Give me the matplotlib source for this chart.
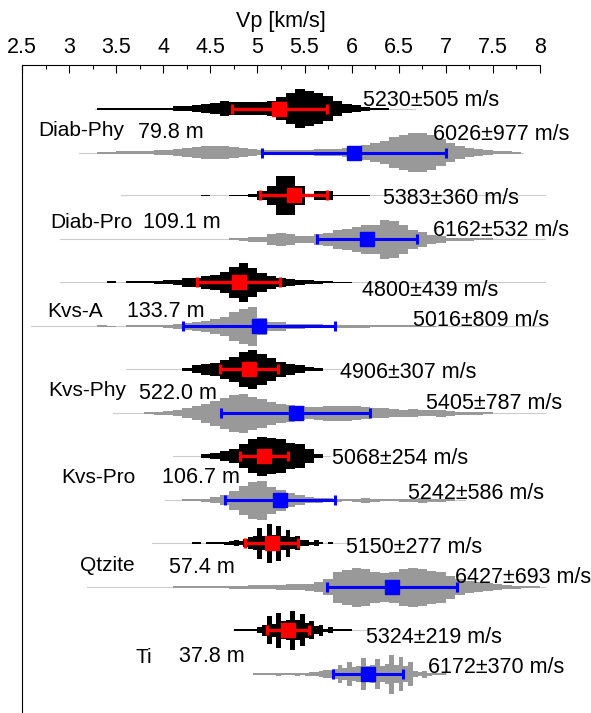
import numpy as np
import matplotlib.pyplot as plt

plt.rcParams['font.family'] = ['Liberation Sans', 'DejaVu Sans']

units = ['Diab-Phy', 'Diab-Pro', 'Kvs-A', 'Kvs-Phy', 'Kvs-Pro', 'Qtzite', 'Ti']
lengths = [79.8, 109.1, 133.7, 522.0, 106.7, 57.4, 37.8]

# mean / std in m/s, first set (black) and second set (gray)
mean_1 = [5230, 5383, 4800, 4906, 5068, 5150, 5324]
std_1 = [505, 360, 439, 307, 254, 277, 219]
mean_2 = [6026, 6162, 5016, 5405, 5242, 6427, 6172]
std_2 = [977, 532, 809, 787, 586, 693, 370]

# histogram counts, first bin edge and bin width in km/s
counts_1 = [
    [1, 1, 1, 1, 1, 1, 1, 1, 2.5, 3, 3.5, 4.5, 6, 7.5, 7, 6.5, 6.5, 7, 8, 12,
     16, 20, 18, 16, 13, 8, 5, 3.5, 2, 1, 1],
    [1, 0, 0, 0.8, 1, 1.5, 4.5, 10, 20, 20, 10, 1.5, 5, 5, 1, 1, 1, 1],
    [1, 0, 1, 1, 1, 1.5, 2, 2.5, 4, 4.5, 6, 7, 10, 15, 19, 14, 9, 6, 4, 3.5,
     2.5, 2, 1.5, 1, 0.7, 0.7],
    [1.5, 4, 5, 6.5, 9, 12, 17, 19, 15, 11, 7, 5, 4, 2, 1.5],
    [2, 3, 5, 7, 12, 17, 19.5, 18, 17, 13, 12, 7, 2],
    [1, 1, 0, 1, 1, 1, 1, 1.5, 2, 3, 2, 4, 6, 7, 15, 7, 19, 8, 17, 7, 13, 6, 7,
     3, 3, 1.5, 3, 1, 0, 1],
    [1, 1, 1, 1, 1, 3, 5, 13, 6, 16, 8, 9, 18, 9, 15, 7, 8.3, 4, 5, 1.5, 2.5,
     1, 1, 1, 1],
]
start_1 = [3.3, 4.4, 3.4, 4.2, 4.4, 4.3, 4.75]
width_1 = [0.1, 0.1, 0.1, 0.1, 0.1, 0.05, 0.05]
range_1 = [(3.27, 6.67), (3.55, 8.05), (2.9, 8.05), (3.6, 5.95),
           (4.1, 5.77), (3.88, 5.95), (4.74, 6.2)]

counts_2 = [
    [1, 1, 1.5, 1.5, 2, 2, 2.5, 3, 3.5, 4.5, 5.5, 6.5, 7, 7, 6, 5, 4, 3, 3, 3,
     3, 3, 3, 3.5, 3.5, 4, 5, 6.5, 8, 10, 12, 16, 18, 19.5, 20, 18, 14, 10, 7,
     5, 4, 3, 2, 1.5, 1],
    [1, 1.5, 2.5, 2.5, 5.5, 6.5, 6, 3.5, 3.5, 5.5, 7, 10, 11, 13, 14.5, 15, 20,
     19, 15, 10, 7.5, 5, 4, 2, 1.5, 1.5, 1, 1],
    [1, 0.7, 0, 1, 1, 1, 1, 1.2, 2.5, 3.5, 4.5, 5.5, 7, 9, 14, 17, 19, 8, 4.5,
     4, 2.5, 2.5, 2, 2, 1.5, 1.5, 1.2, 1.2, 1.2, 1, 1, 1, 1, 1, 0.7, 0.7],
    [1, 1.5, 2, 3, 5, 7, 10, 13, 16, 19, 20, 17, 15, 12, 10, 9, 7, 6, 6.5, 7.5,
     8, 7.5, 7, 6, 5, 5, 4, 3.5, 4, 3, 3, 3.5, 2.5, 1.5, 1.5, 1.2, 1],
    [1, 1, 1.5, 3, 5, 9, 14, 18, 19, 13, 10, 7, 5, 3, 2.5, 2, 1.5, 1, 1.2,
     2.5, 1.2, 1, 1, 1.2, 1.5, 2.5, 1.5, 1.2, 1],
    [1, 1, 1, 1.2, 1.2, 1.2, 1.5, 1.5, 2, 2, 2, 2.5, 3, 3, 3.5, 5, 8, 15, 17,
     19, 18, 15, 14, 15, 18, 19, 18, 16, 15, 11, 8, 6, 5, 4, 3, 2, 1.5, 1.2,
     1],
    [1, 1, 1, 1, 1, 1.5, 1, 1, 1, 1.5, 1, 1.5, 2, 2, 3, 4, 4, 5, 9, 6, 12, 7,
     8, 15.7, 8, 9, 14.7, 8, 10, 19, 9, 16.7, 8, 12, 3, 2, 3.5, 1.5, 1, 1, 1],
]
start_2 = [3.3, 4.7, 3.3, 3.8, 4.2, 4.1, 4.95]
width_2 = [0.1, 0.1, 0.1, 0.1, 0.1, 0.1, 0.05]
range_2 = [(3.1, 7.82), (2.9, 8.05), (2.6, 8.05), (3.47, 8.05),
           (4.02, 7.2), (3.19, 8.05), (4.95, 7.0)]

# label placement: x in km/s, y as baseline offset from the unit's centre row
name_x = [2.67, 2.80, 2.77, 2.78, 2.92, 3.12, 3.70]
name_dy = [0.06, 0.12, 0.14, 0.05, 0.06, 0.07, 0.12]
len_x = [3.73, 3.78, 3.61, 3.74, 3.99, 4.06, 4.17]
len_dy = [0.09, 0.12, 0.14, 0.09, 0.06, 0.09, 0.11]
txt1_x = [6.12, 6.33, 6.11, 5.88, 5.79, 5.94, 6.15]
txt1_dy = [-0.285, -0.156, -0.099, -0.156, -0.161, -0.141, -0.107]
txt2_x = [6.86, 6.86, 6.65, 6.79, 6.60, 7.10, 6.81]
txt2_dy = [0.106, 0.212, 0.247, 0.201, 0.235, 0.204, 0.239]

off = 0.253
fs = 15.5


def violin(ax, y, start, width, counts, color):
    c = np.asarray(counts, float)
    half = 0.225 * c / c.max()
    edges = start + width * np.arange(len(c) + 1)
    h = np.append(half, half[-1])
    ax.fill_between(edges, y - h, y + h, step='post', color=color,
                    lw=0, zorder=2)


fig = plt.figure(figsize=(5.91, 7.13), dpi=100)
ax = fig.add_axes([22 / 591, 0, 518 / 591, 648 / 713])

for i in range(len(units)):
    y1 = i - off
    y2 = i + off
    for y, rng in ((y1, range_1[i]), (y2, range_2[i])):
        ax.plot(rng, [y, y], color='#cccccc', lw=0.8, zorder=1, clip_on=False)
    violin(ax, y1, start_1[i], width_1[i], counts_1[i], 'black')
    violin(ax, y2, start_2[i], width_2[i], counts_2[i], '#999999')

    ax.errorbar(mean_1[i] / 1000, y1, xerr=std_1[i] / 1000, fmt='s',
                color='red', ms=9.5, elinewidth=2.4, capsize=3.6,
                capthick=2.4, zorder=3)
    ax.errorbar(mean_2[i] / 1000, y2, xerr=std_2[i] / 1000, fmt='s',
                color='blue', ms=9.5, elinewidth=2.2, capsize=3.6,
                capthick=2.2, zorder=3)

    ax.text(name_x[i], i + name_dy[i], units[i], fontsize=fs - 0.5,
            va='baseline')
    ax.text(len_x[i], i + len_dy[i], f'{lengths[i]:.1f} m', fontsize=fs,
            va='baseline')
    ax.text(txt1_x[i], i + txt1_dy[i], f'{mean_1[i]}\u00b1{std_1[i]} m/s',
            fontsize=fs, va='baseline', zorder=4)
    ax.text(txt2_x[i], i + txt2_dy[i], f'{mean_2[i]}\u00b1{std_2[i]} m/s',
            fontsize=fs, va='baseline', zorder=4)

ax.set_xlim(2.5, 8)
ax.set_ylim(6.70, -0.754)
ax.xaxis.tick_top()
ticks = np.arange(2.5, 8.01, 0.5)
ax.set_xticks(ticks)
ax.set_xticklabels([f'{t:g}' for t in ticks])
ax.set_xticks(np.arange(2.5, 8.01, 0.25), minor=True)
ax.tick_params(axis='x', which='both', direction='in', top=True,
               bottom=False, labelsize=15.5, pad=5)
ax.tick_params(axis='x', which='major', length=6, width=0.8)
ax.tick_params(axis='x', which='minor', length=3, width=0.8)
ax.set_yticks([])
ax.spines['right'].set_visible(False)
ax.spines['bottom'].set_visible(False)
ax.spines['top'].set_linewidth(0.8)
ax.spines['left'].set_linewidth(0.8)

fig.text(281 / 591, 1 - 27 / 713, 'Vp [km/s]', ha='center', va='baseline',
         fontsize=fs)

fig.savefig('out.png', dpi=100)
